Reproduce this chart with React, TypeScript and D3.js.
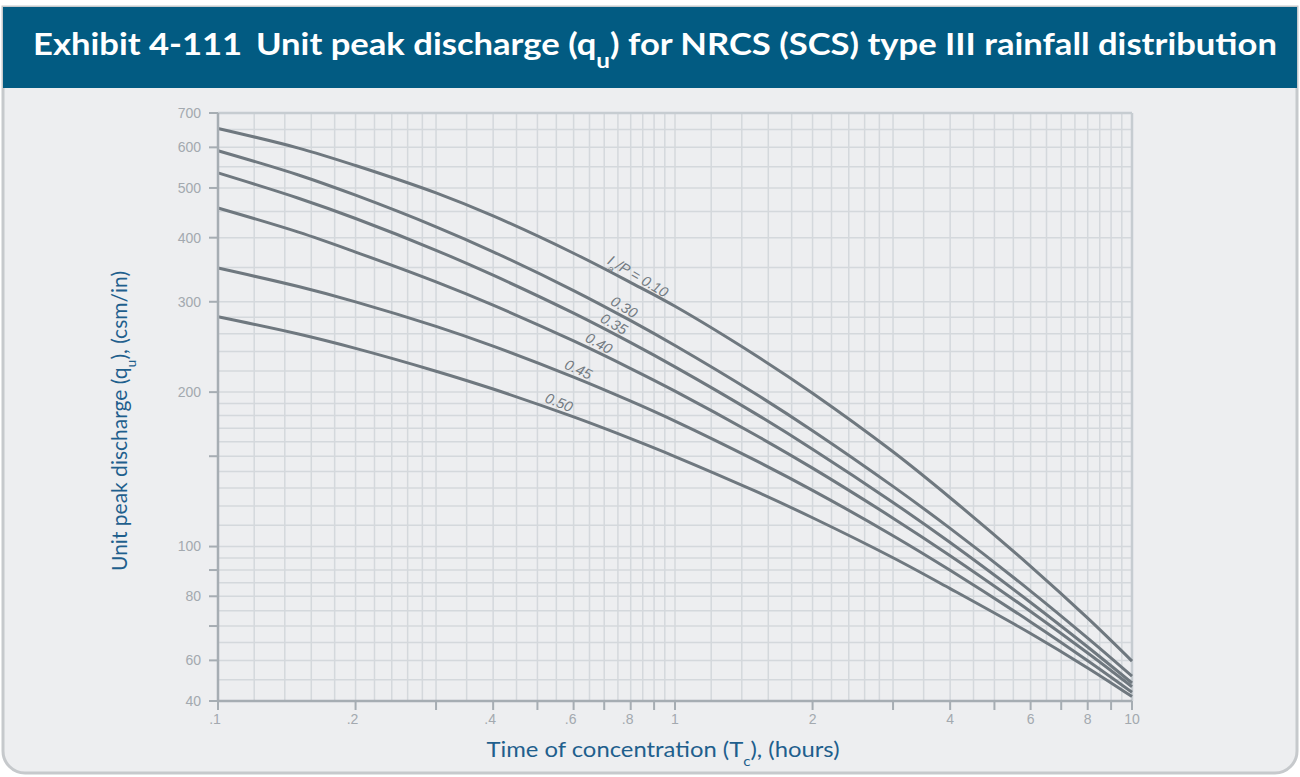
import React from 'react';
import * as d3 from 'd3';

// ---- data ----
const TC = [0.1, 0.15, 0.2, 0.3, 0.4, 0.6, 0.8, 1, 1.5, 2, 3, 4, 6, 8, 10];
const Q_010 = [653, 598, 553, 489, 441, 373, 327, 294, 236, 199, 153, 124.5, 91.5, 72.5, 59.8];
const Q_030 = [591, 530, 484, 420, 375.5, 315.5, 275.6, 246.5, 198.5, 168.2, 131, 108.5, 81.9, 66.3, 55.9];
const Q_035 = [535, 477.5, 436, 378, 338, 285, 249.7, 224, 181.6, 154.8, 121.9, 101.8, 77.8, 63.7, 54.2];
const Q_040 = [457, 410, 375, 328, 295.5, 251.6, 222.3, 200.9, 165, 142.2, 113.6, 96, 74.7, 62, 53.3];
const Q_045 = [349, 321.2, 299.9, 268.6, 245.8, 213.9, 192, 175.6, 147.2, 128.7, 105, 89.9, 71.3, 59.9, 52];
const Q_050 = [280.5, 259.6, 243.4, 219.7, 202.8, 178.9, 162.3, 149.8, 128.2, 113.8, 95.1, 82.8, 67.7, 58, 51];

const SERIES_VALUES = [Q_010, Q_030, Q_035, Q_040, Q_045, Q_050];
const SERIES_LABELS = ['0.10', '0.30', '0.35', '0.40', '0.45', '0.50'];
const LABEL_TC = [0.811, 0.756, 0.719, 0.667, 0.603, 0.548];

const X_TICKS = [0.1, 0.2, 0.3, 0.4, 0.5, 0.6, 0.7, 0.8, 0.9, 1, 2, 3, 4, 5, 6, 7, 8, 9, 10];
const X_TICK_LABELS = ['.1', '.2', '', '.4', '', '.6', '', '.8', '', '1', '2', '', '4', '', '6', '', '8', '', '10'];
const Y_TICKS = [50, 60, 70, 80, 90, 100, 150, 200, 300, 400, 500, 600, 700];
const Y_TICK_LABELS = ['40', '60', '', '80', '', '100', '', '200', '300', '400', '500', '600', '700'];

const X_GRID_MULT = [1, 1.2, 1.4, 1.6, 1.8, 2, 2.2, 2.4, 2.6, 2.8, 3, 3.5, 4, 4.5, 5, 5.5, 6, 6.5, 7, 7.5, 8, 8.5, 9, 9.5];
const X_GRID_DECADES = [0.1, 1];
const Y_GRID_RANGES = [[50, 100, 5], [100, 200, 10], [200, 300, 20], [300, 700, 50]];

const W = 1300, H = 777;
const PL = 218, PR = 1132, PT = 113, PB = 701;

const xS = d3.scaleLog().domain([0.1, 10]).range([PL, PR]);
const yS = d3.scaleLog().domain([50, 700]).range([PB, PT]);

const xGrid: number[] = [];
X_GRID_DECADES.forEach((d) => X_GRID_MULT.forEach((m) => xGrid.push(d * m)));
xGrid.push(10);
const yGrid: number[] = [];
Y_GRID_RANGES.forEach(([a, b, s]) => {
  for (let v = a; v <= b + 1e-9; v += s) if (!yGrid.includes(v)) yGrid.push(v);
});

function valueAt(vals: number[], tc: number) {
  const lt = Math.log10(tc);
  for (let i = 0; i < TC.length - 1; i++) {
    const a = Math.log10(TC[i]), b = Math.log10(TC[i + 1]);
    if (lt >= a && lt <= b) {
      const t = (lt - a) / (b - a);
      return Math.pow(10, Math.log10(vals[i]) * (1 - t) + Math.log10(vals[i + 1]) * t);
    }
  }
  return vals[vals.length - 1];
}

const line = d3
  .line<[number, number]>()
  .x((d) => xS(d[0]))
  .y((d) => yS(d[1]))
  .curve(d3.curveCatmullRom.alpha(0.5));

const BLUE = '#1f5f8d';

export default function App() {
  const r = 22;
  const panelPath = `M3,7 H1297 V${773 - r} A${r},${r} 0 0 1 ${1297 - r},773 H${3 + r} A${r},${r} 0 0 1 3,${773 - r} Z`;
  return (
    <svg width={W} height={H} style={{ position: 'absolute', left: 0, top: 0 }} xmlns="http://www.w3.org/2000/svg">
      <rect x={0} y={0} width={W} height={H} fill="#ffffff" />
      <path d={panelPath} fill="#edeef0" stroke="#c6c9cc" strokeWidth={3} />
      <rect x={3} y={7} width={1294} height={81} fill="#025b82" />
      <text
        x={33}
        y={55}
        fill="#ffffff"
        fontFamily="Lato, 'Open Sans', sans-serif"
        fontWeight={700}
        fontSize={30}
        textLength={1244}
        lengthAdjust="spacingAndGlyphs"
      >
        Exhibit 4-111<tspan dx={12}>Unit peak discharge (q</tspan>
        <tspan baselineShift="sub" fontSize={21}>u</tspan>
        <tspan>) for NRCS (SCS) type III rainfall distribution</tspan>
      </text>

      {/* grid */}
      <g stroke="#d4d8dc" strokeWidth={1.5}>
        {xGrid.map((v, i) => (
          <line key={'gx' + i} x1={xS(v)} x2={xS(v)} y1={PT} y2={PB} />
        ))}
        {yGrid.map((v, i) => (
          <line key={'gy' + i} x1={PL} x2={PR} y1={yS(v)} y2={yS(v)} />
        ))}
      </g>
      {/* top & right border */}
      <line x1={PL} x2={PR} y1={PT} y2={PT} stroke="#c6ccd1" strokeWidth={2.5} />
      <line x1={PR} x2={PR} y1={PT} y2={PB} stroke="#c6ccd1" strokeWidth={2.5} />

      {/* curves */}
      {SERIES_VALUES.map((vals, i) => (
        <path
          key={'c' + i}
          d={line(TC.map((t, j) => [t, vals[j]] as [number, number])) || ''}
          fill="none"
          stroke="#6f787f"
          strokeWidth={3}
        />
      ))}

      {/* curve labels */}
      {SERIES_VALUES.map((vals, i) => {
        const tc = LABEL_TC[i];
        const px = xS(tc), py = yS(valueAt(vals, tc));
        const x1 = xS(tc * 0.9), y1 = yS(valueAt(vals, tc * 0.9));
        const x2 = xS(tc * 1.1), y2 = yS(valueAt(vals, tc * 1.1));
        const ang = (Math.atan2(y2 - y1, x2 - x1) * 180) / Math.PI + 3;
        return (
          <g key={'l' + i} transform={`translate(${px},${py}) rotate(${ang})`}>
            <text
              x={0}
              y={-4}
              textAnchor="middle"
              fontFamily="'Liberation Sans', Arial, sans-serif"
              fontStyle="italic"
              fontSize={14.5}
              fill="#737b82"
            >
              {i === 0 ? (
                <>
                  I<tspan baselineShift="sub" fontSize={10}>a</tspan>
                  <tspan>/P = {SERIES_LABELS[i]}</tspan>
                </>
              ) : (
                SERIES_LABELS[i]
              )}
            </text>
          </g>
        );
      })}

      {/* axes */}
      <line x1={PL} x2={PL} y1={PT} y2={PB + 1} stroke="#a6adb3" strokeWidth={2.5} />
      <line x1={PL - 1} x2={PR} y1={PB} y2={PB} stroke="#a6adb3" strokeWidth={2.5} />
      {Y_TICKS.map((v, i) => (
        <g key={'yt' + i}>
          <line x1={PL - 9} x2={PL} y1={yS(v)} y2={yS(v)} stroke="#a6adb3" strokeWidth={2} />
          {Y_TICK_LABELS[i] && (
            <text
              x={201}
              y={yS(v)}
              dy="0.35em"
              textAnchor="end"
              fontFamily="'Liberation Sans', Arial, sans-serif"
              fontSize={14}
              fill="#a3a9af"
            >
              {Y_TICK_LABELS[i]}
            </text>
          )}
        </g>
      ))}
      {X_TICKS.map((v, i) => (
        <g key={'xt' + i}>
          <line x1={xS(v)} x2={xS(v)} y1={PB} y2={PB + 9} stroke="#a6adb3" strokeWidth={2} />
          {X_TICK_LABELS[i] && (
            <text
              x={xS(v) - (X_TICK_LABELS[i].startsWith('.') ? 3 : 0)}
              y={724}
              textAnchor="middle"
              fontFamily="'Liberation Sans', Arial, sans-serif"
              fontSize={14}
              fill="#a3a9af"
            >
              {X_TICK_LABELS[i]}
            </text>
          )}
        </g>
      ))}

      {/* axis titles */}
      <text
        transform="translate(127,421) rotate(-90)"
        textAnchor="middle"
        fontFamily="Lato, 'Open Sans', sans-serif"
        fontSize={21}
        fill={BLUE}
        textLength={300}
        lengthAdjust="spacingAndGlyphs"
      >
        Unit peak discharge (q<tspan baselineShift="sub" fontSize={14}>u</tspan>
        <tspan>), (csm/in)</tspan>
      </text>
      <text
        x={663}
        y={757}
        textAnchor="middle"
        fontFamily="Lato, 'Open Sans', sans-serif"
        fontSize={22}
        fill={BLUE}
        textLength={353}
        lengthAdjust="spacingAndGlyphs"
      >
        Time of concentration (T<tspan baselineShift="sub" fontSize={14}>c</tspan>
        <tspan>), (hours)</tspan>
      </text>
    </svg>
  );
}
